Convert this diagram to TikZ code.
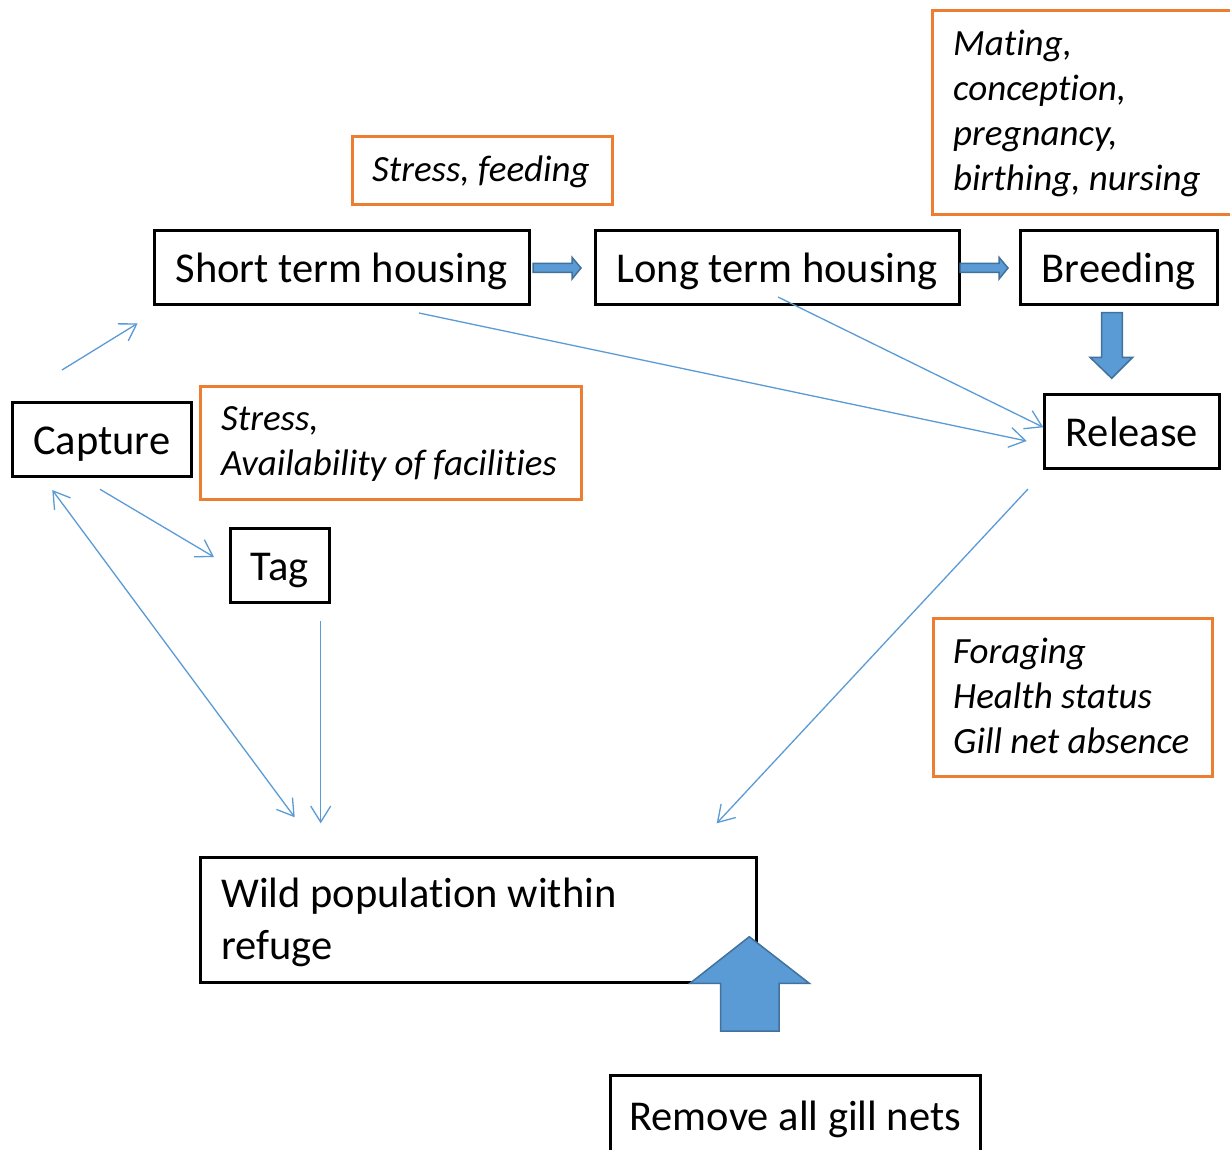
\documentclass[tikz,border=0pt]{standalone}
\usepackage{fontspec}
\setmainfont{Carlito}[Ligatures=NoCommon]
\usetikzlibrary{arrows.meta}
\definecolor{oblue}{HTML}{5B9BD5}
\definecolor{oblueline}{HTML}{41719C}
\definecolor{oorange}{HTML}{ED7D31}
\tikzset{
  box/.style={draw=black, line width=2.5pt, inner sep=0pt, anchor=north west,
    font=\fontsize{42.5}{52}\selectfont, text height=38pt, text depth=8pt},
  plainbox/.style={draw=black, line width=2.5pt, inner sep=0pt, anchor=north west},
  obox/.style={draw=oorange, line width=2.5pt, inner sep=0pt, anchor=north west},
  itxt/.style={inner sep=0pt, anchor=base west, align=left,
    font=\fontsize{37}{45}\selectfont\itshape},
  mtxt/.style={inner sep=0pt, anchor=base west, align=left,
    font=\fontsize{42.5}{52}\selectfont},
  conn/.style={draw=oblue, line width=1.3pt, -{Straight Barb[length=16pt,width=20pt]}},
  dconn/.style={draw=oblue, line width=1.3pt, {Straight Barb[length=16pt,width=20pt]}-{Straight Barb[length=16pt,width=20pt]}},
  blockarrow/.style={fill=oblue, draw=oblueline, line width=1.5pt, line join=miter}
}
\begin{document}
\begin{tikzpicture}[x=1pt,y=-1pt]
\useasboundingbox[fill=white] (0,0) rectangle (1230,1149);

% main boxes
\node[box, minimum width=375, minimum height=74] (sth) at (153,229) {Short term housing};
\node[box, minimum width=364, minimum height=74] (lth) at (594,229) {Long term housing};
\node[box, minimum width=197, minimum height=74] (brd) at (1019,229) {Breeding};
\node[box, minimum width=179, minimum height=74] (cap) at (11,401) {Capture};
\node[box, minimum width=175, minimum height=74] (rel) at (1043,393) {Release};
\node[box, minimum width=99, minimum height=74] (tag) at (229,527) {Tag};
\node[plainbox, minimum width=556, minimum height=125] (wild) at (199,856) {};
\node[mtxt] (wildt) at (221,959) {Wild population within\\refuge};
\node[box, minimum width=370, minimum height=80] (rem) at (609,1074) {Remove all gill nets};

% orange boxes
\node[obox, minimum width=260, minimum height=68] (o1) at (351,135) {};
\node[itxt] (o1t) at (372,181) {Stress, feeding};
\node[obox, minimum width=381, minimum height=113] (o2) at (199,385) {};
\node[itxt] (o2t) at (221,475) {Stress,\\Availability of facilities};
\node[obox, minimum width=310, minimum height=204] (o3) at (931,9) {};
\node[itxt] (o3t) at (953,190) {Mating,\\conception,\\pregnancy,\\birthing, nursing};
\node[obox, minimum width=279, minimum height=158] (o4) at (932,617) {};
\node[itxt] (o4t) at (953,753) {Foraging\\Health status\\Gill net absence};

% block arrows
\draw[blockarrow] (533,263.3) -- (572,263.3) -- (572,257.3) -- (581,268) -- (572,279) -- (572,272.3) -- (533,272.3) -- cycle;
\draw[blockarrow] (960,263.3) -- (999,263.3) -- (999,257.3) -- (1008,268) -- (999,279) -- (999,272.3) -- (960,272.3) -- cycle;
\draw[blockarrow] (1101.7,312.7) -- (1122.3,312.7) -- (1122.3,357.3) -- (1132.7,357.3) -- (1111.7,378.3) -- (1090,357.3) -- (1101.7,357.3) -- cycle;
\draw[blockarrow] (749.3,936.7) -- (809.3,983.3) -- (779,983.3) -- (779,1031) -- (720.7,1031) -- (720.7,983.3) -- (690,983.3) -- cycle;

% connector end points
\coordinate (c1a) at (62,370);
\coordinate (c1b) at (137.7,323.3);
\coordinate (c2a) at (419,313);
\coordinate (c2b) at (1026.7,441);
\coordinate (c3a) at (778,297);
\coordinate (c3b) at (1043.3,427.3);
\coordinate (c4a) at (100,489.3);
\coordinate (c4b) at (214,557);
\coordinate (c5a) at (52.3,490);
\coordinate (c5b) at (294.7,817.3);
\coordinate (c6a) at (320.7,621);
\coordinate (c6b) at (320.7,823.3);
\coordinate (c7a) at (1028,489);
\coordinate (c7b) at (716.7,823.3);

\draw[conn] (c1a) -- (c1b);
\draw[conn] (c2a) -- (c2b);
\draw[conn] (c3a) -- (c3b);
\draw[conn] (c4a) -- (c4b);
\draw[dconn] (c5a) -- (c5b);
\draw[conn] (c6a) -- (c6b);
\draw[conn] (c7a) -- (c7b);
\end{tikzpicture}
\end{document}
